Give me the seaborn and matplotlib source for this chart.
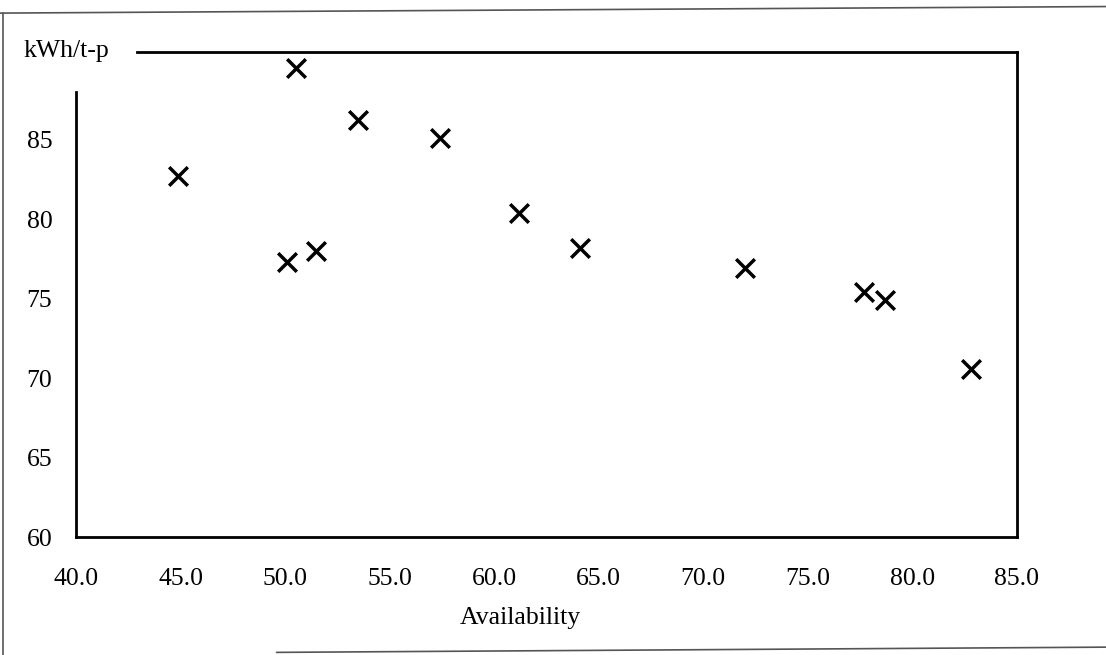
import matplotlib
matplotlib.use("Agg")
import matplotlib.pyplot as plt
from matplotlib.lines import Line2D
import seaborn as sns
import pandas as pd

availability = [44.9, 50.5, 53.5, 57.4, 61.2, 50.1, 51.5, 64.1, 72.0, 77.7, 78.7, 82.8]
energy = [82.7, 89.5, 86.2, 85.1, 80.4, 77.3, 78.0, 78.2, 76.9, 75.4, 74.9, 70.6]
x_ticks = [40, 45, 50, 55, 60, 65, 70, 75, 80, 85]
y_ticks = [60, 65, 70, 75, 80, 85]
x_label = "Availability"
y_label = "kWh/t-p"

sns.set_theme(style="white")
plt.rcParams["font.family"] = ["Liberation Serif", "DejaVu Serif"]

df = pd.DataFrame({"Availability": availability, "kWh": energy})

fig = plt.figure(figsize=(11.06, 6.55), dpi=100)
ax = fig.add_axes([0.0687, 0.180, 0.8508, 0.7406])

sns.scatterplot(data=df, x="Availability", y="kWh", marker="x", s=180,
                color="black", linewidth=2.5, ax=ax, legend=False)

ax.set_xlim(40, 85)
ax.set_ylim(60, 90.5)
ax.set_xticks(x_ticks)
ax.set_xticklabels([f"{v:.1f}" for v in x_ticks])
ax.set_yticks(y_ticks)
ax.set_yticklabels([str(v) for v in y_ticks])

ax.tick_params(axis="x", direction="in", length=4, width=1.2, pad=22,
               labelsize=18.5, colors="black")
ax.tick_params(axis="y", direction="in", length=8, width=1.2, pad=17,
               labelsize=18.5, colors="black")

for side in ["left", "right", "top", "bottom"]:
    ax.spines[side].set_visible(True)
    ax.spines[side].set_color("black")
    ax.spines[side].set_linewidth(2.0)
ax.spines["left"].set_bounds(60, 88.0)
ax.spines["top"].set_bounds(42.9, 85)

ax.set_xlabel(x_label, fontsize=18.5, color="black")
ax.xaxis.set_label_coords(0.472, -0.145)
ax.set_ylabel(y_label, fontsize=18.5, color="black", rotation=0,
              ha="left", va="center")
ax.yaxis.set_label_coords(-0.0563, 1.002)

# outer frame of the scanned figure
frame_kw = dict(color="#555555", linewidth=1.2, transform=fig.transFigure)
fig.add_artist(Line2D([0.003, 0.003], [0.0, 0.980], **frame_kw))
fig.add_artist(Line2D([0.0, 1.0], [0.980, 0.990], **frame_kw))
fig.add_artist(Line2D([0.25, 1.0], [0.004, 0.012], **frame_kw))

fig.savefig("out.png", dpi=100, facecolor="white")
